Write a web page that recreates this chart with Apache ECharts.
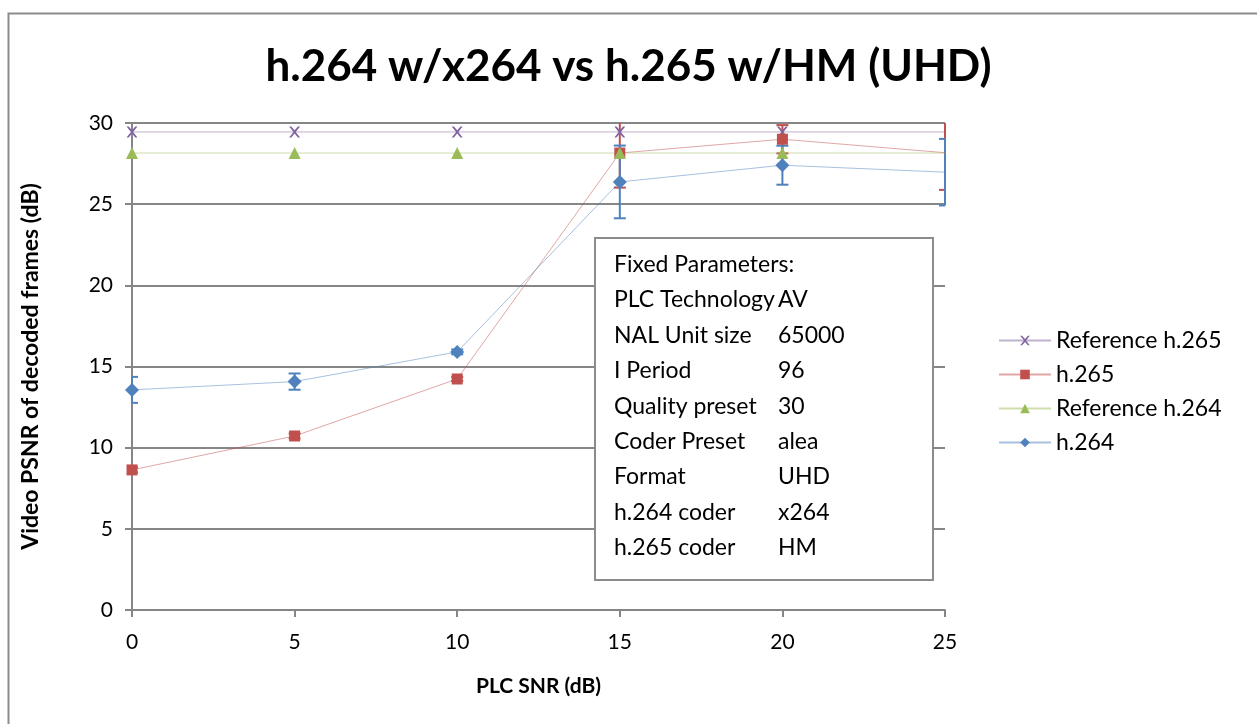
<!DOCTYPE html>
<html><head><meta charset="utf-8">
<script src="https://cdn.jsdelivr.net/npm/echarts@6/dist/echarts.min.js"></script>
<style>html,body{margin:0;padding:0;background:#fff}#c{width:1257px;height:724px}</style>
</head><body><div id="c"></div>
<script>
const snr = [0, 5, 10, 15, 20, 25];
const refH265 = [29.45, 29.45, 29.45, 29.45, 29.45, 29.45];
const h265 = [8.63, 10.72, 14.23, 28.15, 29.0, 28.17];
const h265Err = [0.15, 0.15, 0.12, 2.13, 0.87, 2.29];
const refH264 = [28.15, 28.15, 28.15, 28.15, 28.15, 28.15];
const h264 = [13.56, 14.07, 15.9, 26.37, 27.4, 26.97];
const h264Err = [0.8, 0.5, 0.15, 2.24, 1.2, 2.05];
const seriesNames = ['Reference h.265', 'h.265', 'Reference h.264', 'h.264'];
const paramNames = ['Fixed Parameters:', 'PLC Technology', 'NAL Unit size', 'I Period', 'Quality preset', 'Coder Preset', 'Format', 'h.264 coder', 'h.265 coder'];
const paramValues = ['', 'AV', '65000', '96', '30', 'alea', 'UHD', 'x264', 'HM'];

const FONT = 'Lato, "Open Sans", sans-serif';
const C_PURPLE = '#8064A2', C_RED = '#C0504D', C_GREEN = '#9BBB59', C_BLUE = '#4F81BD';

function pts(vals) {
  return snr.map((x, i) => i === snr.length - 1 ? { value: [x, vals[i]], symbol: 'none' } : [x, vals[i]]);
}
function lineSeries(name, vals, color, symbol, size, z) {
  return {
    type: 'line', name, data: pts(vals), symbol, symbolSize: size, showSymbol: true,
    itemStyle: { color }, lineStyle: { color, width: 1, opacity: 0.5 }, z, animation: false
  };
}
function errSeries(name, vals, errs, color, z) {
  return {
    type: 'custom', name, z, silent: true, animation: false,
    data: snr.map((x, i) => [x, vals[i], errs[i]]),
    renderItem(params, api) {
      const x = api.value(0), y = api.value(1), e = api.value(2);
      const c = api.coord([x, y]), hi = api.coord([x, y + e]), lo = api.coord([x, y - e]);
      const cs = params.coordSys;
      const top = cs.y, bottom = cs.y + cs.height, left = cs.x, right = cs.x + cs.width;
      const yt = Math.max(hi[1], top), yb = Math.min(lo[1], bottom);
      const hw = 6, xl = Math.max(c[0] - hw, left), xr = Math.min(c[0] + hw, right);
      const st = { stroke: color, lineWidth: 2 };
      const ch = [{ type: 'line', shape: { x1: c[0], y1: yt, x2: c[0], y2: yb }, style: st }];
      if (hi[1] >= top) ch.push({ type: 'line', shape: { x1: xl, y1: hi[1], x2: xr, y2: hi[1] }, style: st });
      if (lo[1] <= bottom) ch.push({ type: 'line', shape: { x1: xl, y1: lo[1], x2: xr, y2: lo[1] }, style: st });
      return { type: 'group', children: ch };
    }
  };
}

const boxX = 594, boxY = 237, boxW = 338, boxH = 342;
const textEls = [];
paramNames.forEach((n, i) => {
  const yy = boxY + 30 + i * 35.4;
  textEls.push({ type: 'text', left: boxX + 20, top: yy - 14, style: { text: n, font: '23px ' + FONT, fill: '#000' }, z: 101 });
  if (paramValues[i]) textEls.push({ type: 'text', left: boxX + 184, top: yy - 14, style: { text: paramValues[i], font: '23px ' + FONT, fill: '#000' }, z: 101 });
});

const chart = echarts.init(document.getElementById('c'), null, { renderer: 'canvas' });
chart.setOption({
  backgroundColor: '#fff',
  animation: false,
  title: { text: 'h.264 w/x264 vs h.265 w/HM (UHD)', left: 'center', top: 40,
    textStyle: { fontFamily: FONT, fontSize: 44, fontWeight: 'bold', color: '#000' } },
  grid: { left: 132, right: 312, top: 123, bottom: 114 },
  legend: {
    data: seriesNames, orient: 'vertical', left: 998, top: 329, padding: 0, itemWidth: 52, itemHeight: 12, itemGap: 11,
    textStyle: { fontFamily: FONT, fontSize: 23, color: '#000' }
  },
  xAxis: {
    type: 'value', min: 0, max: 25, interval: 5,
    name: 'PLC SNR (dB)', nameLocation: 'middle', nameGap: 66,
    nameTextStyle: { fontFamily: FONT, fontSize: 21, fontWeight: 'bold', color: '#000' },
    axisLine: { show: true, lineStyle: { color: '#868686', width: 2 } },
    axisTick: { show: true, length: 7, lineStyle: { color: '#868686', width: 2 } },
    axisLabel: { fontFamily: FONT, fontSize: 21, color: '#000', margin: 22 },
    splitLine: { show: false }
  },
  yAxis: {
    type: 'value', min: 0, max: 30, interval: 5,
    name: 'Video PSNR of decoded frames (dB)', nameLocation: 'middle', nameGap: 90,
    nameTextStyle: { fontFamily: FONT, fontSize: 23, fontWeight: 'bold', color: '#000' },
    axisLine: { show: true, lineStyle: { color: '#868686', width: 2 } },
    axisTick: { show: true, length: 7, lineStyle: { color: '#868686', width: 2 } },
    axisLabel: { fontFamily: FONT, fontSize: 21, color: '#000', margin: 19 },
    splitLine: { show: true, lineStyle: { color: '#868686', width: 2 } }
  },
  graphic: [
    { type: 'rect', left: 6, top: 11, shape: { width: 1300, height: 800 }, style: { fill: 'none', stroke: '#8c8c8c', lineWidth: 2 }, z: -1, silent: true },
    { type: 'rect', left: boxX, top: boxY, shape: { width: boxW, height: boxH }, style: { fill: '#fff', stroke: '#8c8c8c', lineWidth: 2 }, z: 100 },
    ...textEls
  ],
  series: [
    errSeries('err265', h265, h265Err, C_RED, 3),
    errSeries('err264', h264, h264Err, C_BLUE, 3),
    lineSeries('Reference h.265', refH265, C_PURPLE, 'path://M0,0L2,0L5,3.5L8,0L10,0L6,5L10,10L8,10L5,6.5L2,10L0,10L4,5Z', 11, 4),
    lineSeries('h.265', h265, C_RED, 'rect', 11, 4),
    lineSeries('Reference h.264', refH264, C_GREEN, 'triangle', 12, 4),
    lineSeries('h.264', h264, C_BLUE, 'diamond', 14, 4)
  ]
});
</script></body></html>
